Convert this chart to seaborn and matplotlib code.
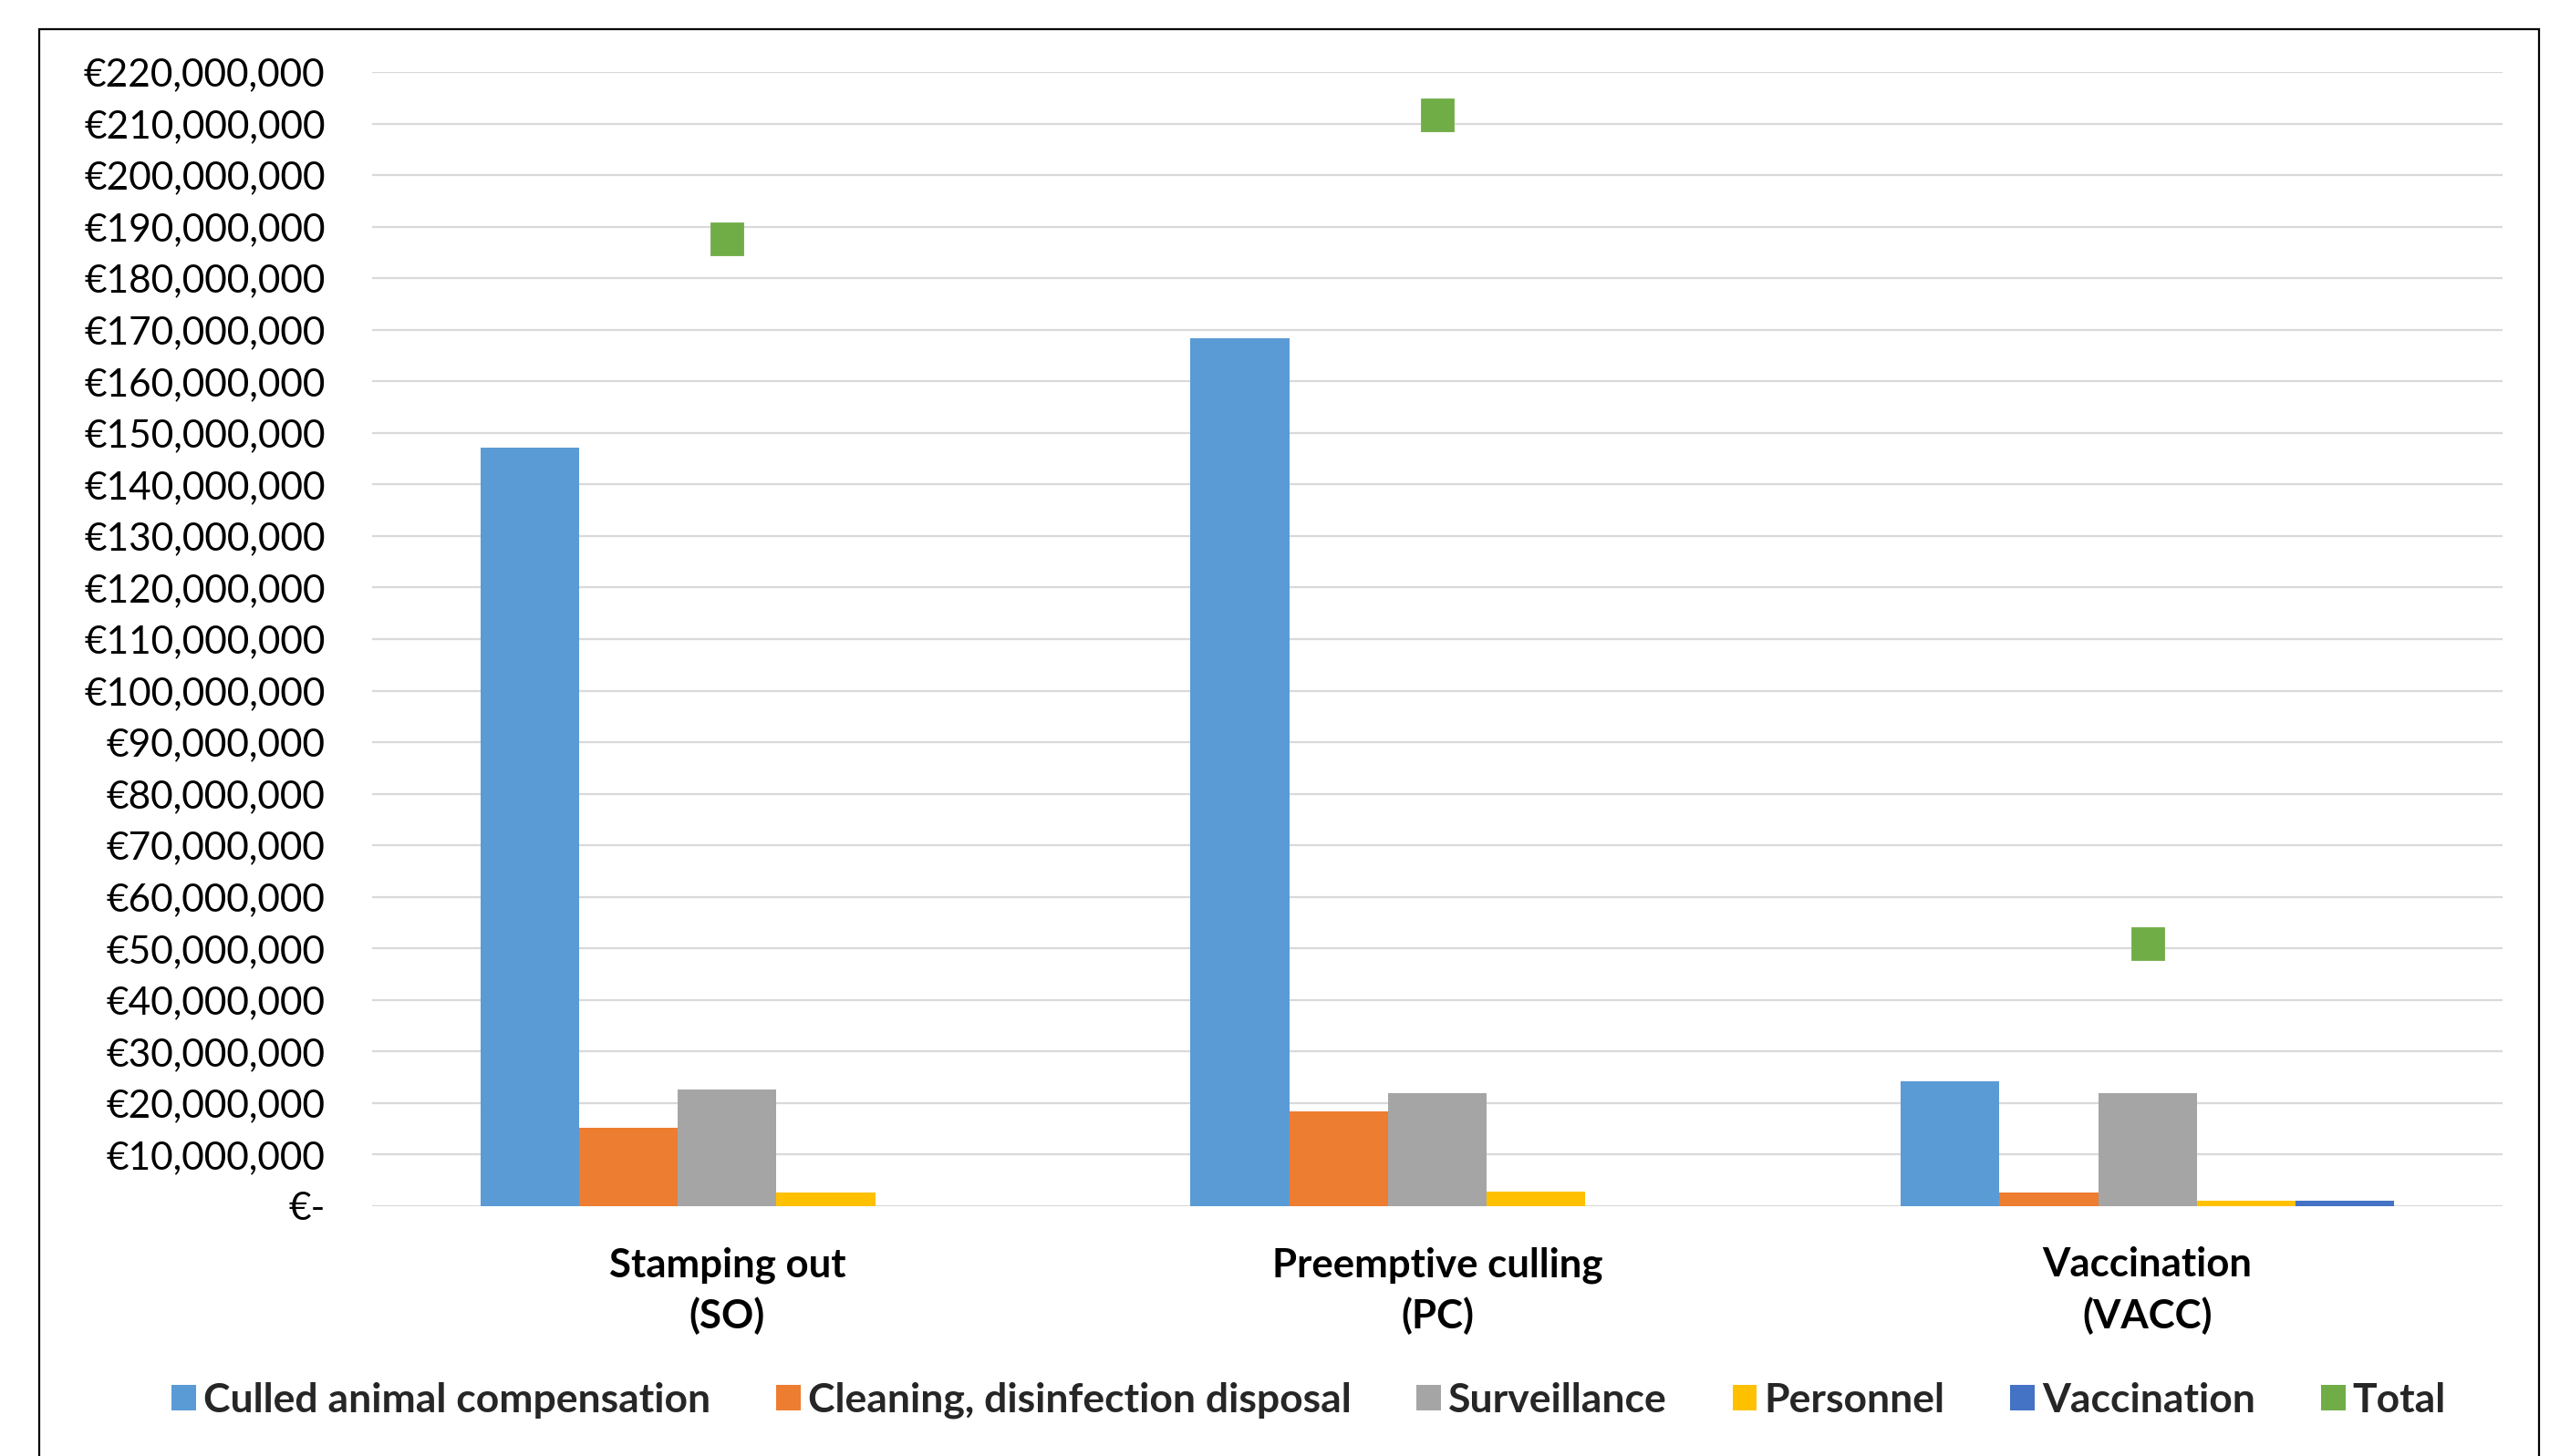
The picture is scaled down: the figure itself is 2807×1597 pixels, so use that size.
import numpy as np
import pandas as pd
import matplotlib
matplotlib.use("Agg")
import matplotlib.pyplot as plt
import seaborn as sns
from matplotlib.patches import Patch, Rectangle
from matplotlib.ticker import FuncFormatter, MultipleLocator

# Control strategies and their cost components (EUR)
scenarios = ["Stamping out\n(SO)", "Preemptive culling\n(PC)", "Vaccination\n(VACC)"]
cost_items = ["Culled animal compensation", "Cleaning, disinfection disposal",
              "Surveillance", "Personnel", "Vaccination"]
culled = [147.2e6, 168.4e6, 24.3e6]
cleaning = [15.2e6, 18.4e6, 2.6e6]
surveillance = [22.7e6, 22.0e6, 22.0e6]
personnel = [2.6e6, 2.9e6, 1.0e6]
vaccination = [0.0, 0.0, 1.0e6]
totals = [187.7e6, 211.7e6, 50.9e6]

item_colors = ["#5B9BD5", "#ED7D31", "#A5A5A5", "#FFC000", "#4472C4"]
total_color = "#70AD47"

series = [culled, cleaning, surveillance, personnel, vaccination]
df = pd.DataFrame({
    "scenario": np.repeat([scenarios], len(cost_items), axis=0).ravel(),
    "item": np.repeat(cost_items, len(scenarios)),
    "cost": np.concatenate(series),
})

sns.set_theme(style="white")
plt.rcParams["font.family"] = ["Lato", "DejaVu Sans"]

W, H = 2807, 1597
fig = plt.figure(figsize=(W / 100, H / 100), dpi=100)
fig.patch.set_facecolor("white")
ax = fig.add_axes([408 / W, 1 - 1323 / H, (2744 - 408) / W, (1323 - 79) / H])

sns.barplot(data=df, x="scenario", y="cost", hue="item", order=scenarios,
            hue_order=cost_items, palette=item_colors, saturation=1,
            width=0.695, linewidth=0, errorbar=None, legend=False, ax=ax)
sns.pointplot(x=scenarios, y=totals, order=scenarios, color=total_color,
              marker="s", markersize=24, linestyle="none", errorbar=None, ax=ax)
for coll in ax.collections:
    coll.set_zorder(4)
for line in ax.lines:
    line.set_zorder(4)

ax.set_xlim(-0.5, 2.5)
ax.set_ylim(0, 220e6)
ax.yaxis.set_major_locator(MultipleLocator(10e6))
ax.yaxis.set_major_formatter(FuncFormatter(
    lambda v, _: "€-" if abs(v) < 1 else f"€{v:,.0f}"))
ax.grid(axis="y", color="#D9D9D9", linewidth=1.6)
ax.grid(axis="x", visible=False)
ax.set_axisbelow(True)
for sp in ax.spines.values():
    sp.set_visible(False)
ax.set_xlabel("")
ax.set_ylabel("")
ax.tick_params(axis="y", length=0, pad=37, labelsize=30.5, labelcolor="black")
ax.tick_params(axis="x", length=0, pad=32, labelsize=31.5, labelcolor="black")
for t in ax.get_xticklabels():
    t.set_fontweight("bold")
    t.set_linespacing(1.43)

handles = [Patch(facecolor=c, edgecolor="none") for c in item_colors]
handles.append(Patch(facecolor=total_color, edgecolor="none"))
labels = cost_items + ["Total"]
fig.legend(handles, labels, loc="center", bbox_to_anchor=(0.5112, 1 - 1536 / H),
           ncol=6, frameon=False, prop={"weight": "bold", "size": 32},
           handlelength=0.6, handleheight=0.6, handletextpad=0.18,
           columnspacing=1.62)

# chart frame (open at the bottom edge)
fig.add_artist(Rectangle((43 / W, -0.05), (2784 - 43) / W, 1.05 - 32 / H,
                         transform=fig.transFigure, fill=False,
                         edgecolor="black", linewidth=1.6))

fig.savefig("out.png", dpi=100, facecolor="white")
